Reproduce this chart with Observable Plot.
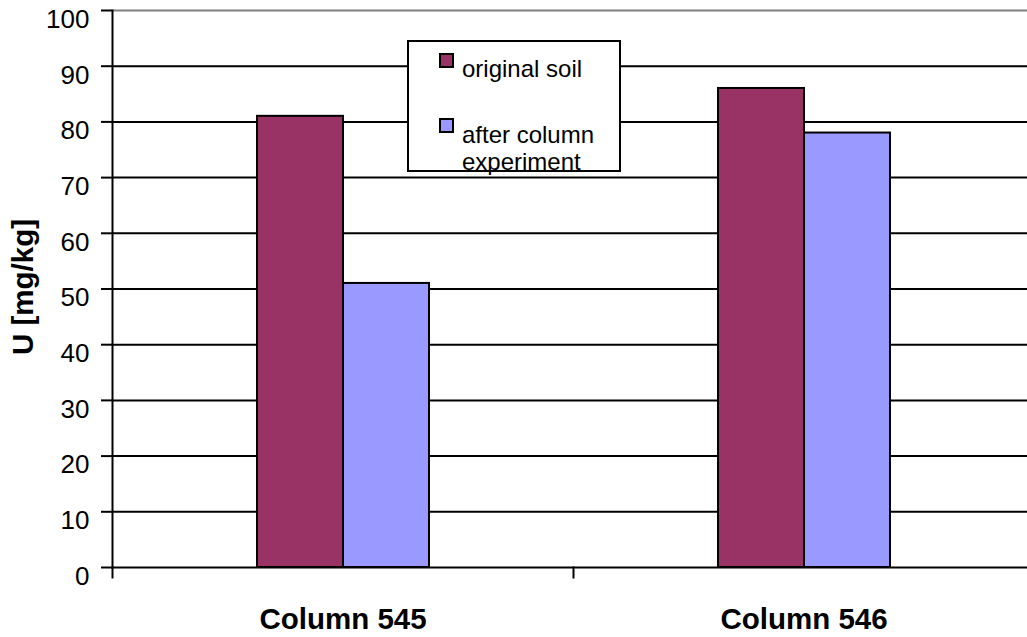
<!DOCTYPE html>
<html>
<head>
<meta charset="utf-8">
<script src="https://cdn.jsdelivr.net/npm/d3@7"></script>
<script src="https://cdn.jsdelivr.net/npm/@observablehq/plot@0.6"></script>
<style>
  html, body { margin: 0; padding: 0; background: #fff; overflow: hidden; }
  #wrap { position: relative; width: 1027px; height: 637px; overflow: hidden;
          font-family: "Liberation Sans", Arial, sans-serif; }
  #wrap svg { max-width: none !important; }
  #legend { position: absolute; left: 407px; top: 40px; width: 214px; height: 132px;
            border: 2px solid #000; background: #fff; box-sizing: border-box; }
  .sw { position: absolute; left: 30px; width: 15px; height: 15px; border: 2px solid #000; box-sizing: border-box; }
  .lt { position: absolute; left: 53px; font-size: 24px; line-height: 27px; color: #000; white-space: nowrap; }
</style>
</head>
<body>
<div id="wrap"></div>
<script>
// ---- data ----
const categories = ["Column 545", "Column 546"];
const seriesNames = ["original soil", "after column experiment"];
const originalSoil = [81, 86];
const afterColumn = [51, 78];
const yTicks = [0, 10, 20, 30, 40, 50, 60, 70, 80, 90, 100];
const yLabel = "U [mg/kg]";
const seriesColors = ["#993366", "#9999FF"];
const legendLines = [["original soil"], ["after column", "experiment"]];

const rows = categories.flatMap((c, i) => [
  {category: c, series: seriesNames[0], value: originalSoil[i]},
  {category: c, series: seriesNames[1], value: afterColumn[i]}
]);

const chart = Plot.plot({
  width: 1034,
  height: 637,
  marginTop: 10,
  marginBottom: 70,
  marginLeft: 112,
  marginRight: 0,
  style: {fontFamily: "'Liberation Sans', Arial, sans-serif", background: "white", color: "black", maxWidth: "none"},
  fx: {domain: categories, padding: 0, axis: null},
  x: {domain: seriesNames, paddingInner: 0, paddingOuter: 1.68, align: 0.5, axis: null},
  y: {domain: [0, 100], axis: null},
  color: {domain: seriesNames, range: seriesColors},
  marks: [
    Plot.ruleY(yTicks.filter(t => t < 100), {stroke: "black", strokeWidth: 2}),
    Plot.ruleY(yTicks.filter(t => t === 100), {stroke: "#808080", strokeWidth: 2}),
    Plot.barY(rows, {fx: "category", x: "series", y: "value", fill: "series", stroke: "black", strokeWidth: 2}),
    Plot.frame({anchor: "left", facet: "super", stroke: "black", strokeWidth: 2}),
    Plot.frame({anchor: "left", insetTop: 557, insetBottom: -10, stroke: "black", strokeWidth: 2}),
    Plot.axisY({ticks: yTicks, tickSize: 11, tickFormat: () => "", strokeWidth: 2, label: null}),
    Plot.axisY({ticks: yTicks, tickSize: 0, tickPadding: 23, dy: 9, fontSize: 26, label: null}),
    Plot.axisFx({anchor: "bottom", tickSize: 0, tickPadding: 41, fontSize: 29.5, fontWeight: "bold", label: null}),
    Plot.text([yLabel], {frameAnchor: "left", textAnchor: "middle", rotate: -90, dx: -89, dy: -2,
                         fontSize: 29.5, fontWeight: "bold", facet: "super"})
  ]
});

const wrap = document.getElementById("wrap");
wrap.appendChild(chart);

// legend (inside plot area, as in the reference)
const legend = document.createElement("div");
legend.id = "legend";
const swTops = [11, 76];
const txtTops = [13, 79];
seriesNames.forEach((s, i) => {
  const sw = document.createElement("div");
  sw.className = "sw";
  sw.style.top = swTops[i] + "px";
  sw.style.background = seriesColors[i];
  legend.appendChild(sw);
  const t = document.createElement("div");
  t.className = "lt";
  t.style.top = txtTops[i] + "px";
  t.innerHTML = legendLines[i].join("<br>");
  legend.appendChild(t);
});
wrap.appendChild(legend);
</script>
</body>
</html>
